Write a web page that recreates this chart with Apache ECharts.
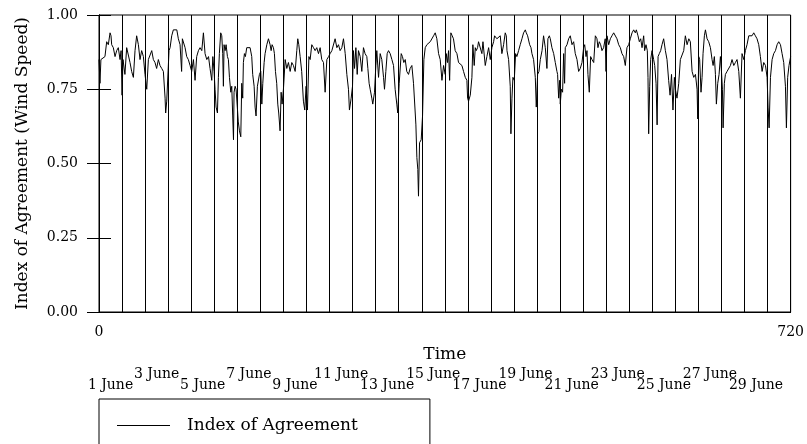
<!DOCTYPE html>
<html>
<head>
<meta charset="utf-8">
<script src="https://cdn.jsdelivr.net/npm/echarts@6/dist/echarts.min.js"></script>
<style>
html, body { margin: 0; padding: 0; background: #fff; }
#main { width: 807px; height: 444px; }
</style>
</head>
<body>
<div id="main"></div>
<script>
// hour of June (0..720) and index of agreement
var hours = [
    0, 1, 2, 4, 6.2, 8, 9.7, 11.5, 12.5, 13.2, 14.9, 16.7, 18.4, 20.1, 21.9, 23,
    24, 25, 27, 28.8, 30.6, 32.3, 34, 35.8, 37.5, 39.2, 41, 42.7, 44.4, 46.2, 47.9,
    49.7, 51.4, 53.1, 54.9, 56.6, 58.3, 60, 61.8, 63.5, 65.3, 67, 68.8, 69.4, 70.5,
    72.2, 72.9, 74, 75.7, 77.4, 79.2, 81, 82.6, 84.4, 86, 86.8, 87.8, 89.6, 91.3, 93, 94.8,
    96.5, 98.3, 100, 101.7, 103.5, 105.2, 107, 108.7, 110.4, 112.2, 114, 115.6, 117.4, 118.5, 119.8,
    120.8, 121.9, 123.3, 124.3, 125.3, 126.7, 127.8, 128.8, 129.5, 130.2, 131.3, 132.3, 133.7, 134.7, 135.8, 137.2, 138.2, 139.2, 140, 140.6, 141.7, 142.7,
    144, 145, 146.2, 147.6, 148.6, 149.6, 150.3, 151.4, 152.4, 153.8, 155.6, 157.3, 159, 160, 161.5, 162.5, 163.5, 164.9, 167,
    168.4, 169.5, 170.5, 171.9, 172.9, 174.7, 176.4, 178.1, 179.2, 180.2, 181.6, 182.6, 183.7, 185, 186.1, 187.1, 188.5, 189.6, 190.6,
    192, 193.8, 195.5, 197.2, 199, 200.7, 202.4, 204.2, 205.9, 206.9, 208, 209.4, 211, 212.8, 214.2,
    215.6, 217, 218.5, 219.8, 221.5, 223.3, 225, 226.7, 228.5, 230.2, 231.9, 233.7, 235.4, 237.2, 239,
    240.6, 242.4, 244, 245.8, 247.6, 249.3, 251, 252.8, 254.5, 256.3, 258, 259.7, 260.7, 262.5,
    263.9, 264.9, 266, 267.4, 268.8, 270.1, 271.9, 273.6, 275.3, 277, 278.8, 279.9, 281.2, 282.3, 284, 285, 286.8,
    288.2, 289.2, 291, 292.7, 294.4, 296.2, 297.2, 298.6, 300, 301.4, 303.1, 304.9, 306.6, 308.3, 310, 311,
    312.5, 314.6, 315.9, 317.3, 318.8, 320.4, 322.2, 323.9, 325.7, 327.4, 329.2, 329.9, 330.9, 331.9, 332.6, 333.7, 335.4,
    336.8, 338.2, 339.6, 341.3, 343, 344.8, 346.5, 348.3, 350, 351.7, 353.5, 355.2, 357, 358.7,
    360.4, 361.5, 362.8, 363.9, 365, 366.3, 367.7, 369, 370.8, 372.6, 374.3, 376, 377.8, 379.5, 381.3, 383,
    383.7, 384.7, 386.5, 388.2, 389.2, 390.6, 391.7, 392.7, 394.1, 395.1, 396.9, 398.6, 399.7, 401, 402.1, 403.8, 405.6, 407.3,
    409, 410.8, 411.8, 414.2, 415.9, 417.7, 419.4, 421.2, 422.9, 424, 424.7, 426.4, 428.1, 428.8, 429.9, 430.9,
    432.3, 433.7, 435, 436.8, 438.5, 440.3, 442, 443.8, 444.8, 446.2, 448.3, 449.7, 450.7, 452.4, 454.2, 455.2,
    456.6, 458, 459.4, 461.2, 462.8, 464.6, 466.3, 467.3, 468.8, 469.8, 471.5, 473.3, 475, 476.7, 477.4, 478.5, 479.5,
    480.2, 481.3, 482.6, 483.7, 484.7, 485.4, 487.2, 488.9, 490.6, 492.4, 494.1, 495.8, 497.6, 499.3, 501, 502.8,
    504.5, 505.6, 507, 508, 509, 510.4, 511.8, 513.2, 515, 516.7, 518.4, 519.4, 520.8, 522.2, 523.6, 525.3, 527, 527.8,
    528.8, 530.6, 532.3, 534, 535.8, 537.5, 539.2, 541, 542.7, 544.4, 546.2, 547.9, 549.6, 551.4,
    553.1, 554.9, 556.6, 558.3, 559.4, 561.1, 562.5, 563.9, 565.3, 567, 568, 569.4, 570.8, 571.5, 572.2, 573.3, 574.3, 575.7,
    577.4, 578.5, 579.9, 581, 582, 583.3, 584.7, 586.1, 587.8, 589.6, 591.3, 593, 594.5, 596, 597.5, 599,
    600, 601.7, 603.5, 605.2, 607, 608.7, 610.4, 612.2, 614, 615.6, 617.4, 619.1, 620.9, 622.6, 623.3,
    624.3, 625.3, 626.7, 627.8, 628.8, 630.2, 631.3, 633, 634.7, 636.5, 638.2, 639.3, 640.6, 641.7, 642.7, 644.1, 645.5, 646.9,
    648, 649, 649.7, 651, 652.1, 653.8, 655.6, 657.3, 659, 660.8, 662.5, 664.2, 666, 667.7, 669.4, 671.2,
    672.9, 674.6, 676.4, 678.1, 679.8, 681.6, 683.3, 685, 686.8, 688.5, 690.3, 692, 693.8, 695.5,
    696.5, 697.6, 699, 700.7, 702.4, 704.2, 705.9, 707.6, 709.4, 711.1, 712.8, 714.6, 715.6, 716.9, 718.3, 720
];
var agreement = [
    0.85, 0.77, 0.85, 0.85, 0.86, 0.91, 0.90, 0.94, 0.93, 0.90, 0.89, 0.86, 0.88, 0.89, 0.85, 0.88,
    0.73, 0.85, 0.80, 0.89, 0.89, 0.84, 0.81, 0.79, 0.88, 0.93, 0.90, 0.85, 0.88, 0.86, 0.80,
    0.75, 0.85, 0.85, 0.88, 0.85, 0.84, 0.82, 0.85, 0.83, 0.82, 0.81, 0.72, 0.67, 0.71,
    0.71, 0.88, 0.89, 0.93, 0.95, 0.95, 0.95, 0.92, 0.90, 0.81, 0.92, 0.92, 0.89, 0.86, 0.85, 0.83,
    0.81, 0.85, 0.78, 0.86, 0.88, 0.89, 0.88, 0.94, 0.87, 0.85, 0.86, 0.82, 0.78, 0.86, 0.81,
    0.75, 0.69, 0.67, 0.79, 0.87, 0.94, 0.93, 0.87, 0.76, 0.90, 0.88, 0.90, 0.86, 0.85, 0.79, 0.74, 0.76, 0.66, 0.58, 0.74, 0.76, 0.75,
    0.69, 0.64, 0.61, 0.59, 0.77, 0.72, 0.84, 0.87, 0.86, 0.89, 0.89, 0.89, 0.86, 0.80, 0.76, 0.69, 0.66, 0.76, 0.80,
    0.81, 0.70, 0.77, 0.84, 0.87, 0.90, 0.92, 0.90, 0.88, 0.90, 0.89, 0.87, 0.81, 0.77, 0.70, 0.67, 0.61, 0.74, 0.70,
    0.75, 0.85, 0.82, 0.84, 0.81, 0.84, 0.83, 0.81, 0.88, 0.92, 0.90, 0.86, 0.81, 0.71, 0.68,
    0.76, 0.68, 0.86, 0.85, 0.90, 0.89, 0.88, 0.89, 0.87, 0.89, 0.85, 0.84, 0.74, 0.85, 0.86,
    0.87, 0.88, 0.88, 0.92, 0.89, 0.90, 0.88, 0.89, 0.92, 0.87, 0.80, 0.75, 0.68, 0.72,
    0.76, 0.88, 0.82, 0.89, 0.80, 0.88, 0.86, 0.81, 0.89, 0.87, 0.86, 0.82, 0.77, 0.75, 0.72, 0.70, 0.74,
    0.83, 0.88, 0.79, 0.87, 0.85, 0.79, 0.75, 0.81, 0.87, 0.88, 0.87, 0.85, 0.83, 0.75, 0.70, 0.67,
    0.77, 0.87, 0.86, 0.84, 0.85, 0.81, 0.80, 0.82, 0.83, 0.77, 0.67, 0.63, 0.52, 0.48, 0.39, 0.57, 0.58,
    0.66, 0.85, 0.89, 0.90, 0.90, 0.91, 0.91, 0.93, 0.94, 0.92, 0.87, 0.85, 0.78, 0.83,
    0.80, 0.87, 0.84, 0.88, 0.78, 0.94, 0.93, 0.92, 0.88, 0.87, 0.84, 0.84, 0.83, 0.81, 0.79, 0.78,
    0.72, 0.71, 0.73, 0.79, 0.90, 0.83, 0.89, 0.88, 0.89, 0.91, 0.91, 0.87, 0.91, 0.91, 0.83, 0.86, 0.89, 0.85,
    0.89, 0.91, 0.93, 0.92, 0.92, 0.93, 0.87, 0.90, 0.94, 0.93, 0.88, 0.85, 0.76, 0.60, 0.72, 0.79,
    0.78, 0.87, 0.86, 0.88, 0.90, 0.92, 0.94, 0.95, 0.94, 0.93, 0.90, 0.89, 0.87, 0.85, 0.79, 0.69,
    0.80, 0.81, 0.85, 0.88, 0.93, 0.89, 0.82, 0.92, 0.93, 0.92, 0.89, 0.87, 0.84, 0.81, 0.80, 0.72, 0.78,
    0.70, 0.75, 0.74, 0.87, 0.77, 0.89, 0.90, 0.92, 0.93, 0.90, 0.91, 0.87, 0.85, 0.81, 0.82, 0.84,
    0.89, 0.90, 0.86, 0.88, 0.80, 0.74, 0.86, 0.85, 0.84, 0.93, 0.92, 0.89, 0.91, 0.90, 0.88, 0.89, 0.92, 0.81,
    0.93, 0.90, 0.92, 0.93, 0.94, 0.94, 0.92, 0.90, 0.89, 0.87, 0.86, 0.83, 0.89, 0.90,
    0.92, 0.94, 0.95, 0.94, 0.95, 0.93, 0.91, 0.92, 0.89, 0.93, 0.88, 0.90, 0.88, 0.79, 0.60, 0.76, 0.85, 0.88,
    0.85, 0.83, 0.77, 0.63, 0.86, 0.87, 0.88, 0.90, 0.92, 0.88, 0.85, 0.78, 0.73, 0.80, 0.68, 0.79,
    0.75, 0.72, 0.77, 0.85, 0.85, 0.88, 0.93, 0.90, 0.92, 0.91, 0.81, 0.79, 0.80, 0.75, 0.65,
    0.86, 0.85, 0.74, 0.79, 0.87, 0.93, 0.95, 0.92, 0.91, 0.89, 0.85, 0.83, 0.86, 0.80, 0.70, 0.77, 0.80, 0.86,
    0.81, 0.75, 0.62, 0.77, 0.80, 0.81, 0.81, 0.83, 0.85, 0.83, 0.84, 0.85, 0.81, 0.72, 0.87, 0.85,
    0.88, 0.90, 0.93, 0.93, 0.93, 0.94, 0.93, 0.92, 0.90, 0.86, 0.81, 0.84, 0.83, 0.79,
    0.69, 0.62, 0.79, 0.85, 0.87, 0.88, 0.90, 0.91, 0.90, 0.87, 0.84, 0.76, 0.62, 0.79, 0.83, 0.86
];
var upperDays = [3, 7, 11, 15, 19, 23, 27];
var lowerDays = [1, 5, 9, 13, 17, 21, 25, 29];
var xEnds = [0, 720];
var yTicks = [0, 0.25, 0.5, 0.75, 1];

var serif = 'DejaVu Serif';
var chart = echarts.init(document.getElementById('main'));

var points = hours.map(function (h, i) { return [h, agreement[i]]; });

function midday(d) { return (d - 1) * 24 + 12; }

// extra label-only axis for one row of day names
function dayAxis(days, margin) {
    return {
        type: 'value', min: 0, max: 720, position: 'bottom',
        axisLine: { show: false }, axisTick: { show: false }, splitLine: { show: false },
        axisLabel: {
            customValues: days.map(midday),
            margin: margin,
            fontFamily: serif, fontSize: 14, color: '#000',
            formatter: function (v) { return ((v - 12) / 24 + 1) + ' June'; }
        }
    };
}

function yAxis(pos, labels) {
    return {
        type: 'value', position: pos, min: yTicks[0], max: yTicks[yTicks.length - 1], interval: 0.25,
        axisLine: { show: true, lineStyle: { color: '#000', width: 1 } },
        axisTick: { show: true, inside: true, length: 12, lineStyle: { color: '#000' } },
        splitLine: { show: false },
        axisLabel: {
            show: labels, margin: 21, fontFamily: serif, fontSize: 14, color: '#000',
            formatter: function (v) { return v.toFixed(2); }
        }
    };
}

var option = {
    animation: false,
    backgroundColor: '#fff',
    grid: {
        left: 99, right: 16, top: 15, bottom: 132,
        show: true, borderColor: '#000', borderWidth: 1
    },
    legend: {
        data: ['Index of Agreement'],
        left: 99, top: 399,
        padding: [18, 72, 30, 18],
        icon: 'rect',
        itemWidth: 53, itemHeight: 1,
        itemStyle: { color: '#000' },
        borderColor: '#000', borderWidth: 1,
        textStyle: { fontFamily: serif, fontSize: 17, color: '#000', padding: [0, 0, 0, 12] }
    },
    xAxis: [
        {
            type: 'value', min: 0, max: 720, interval: 24,
            axisLine: { show: true, lineStyle: { color: '#000' } },
            axisTick: { show: false },
            splitLine: { show: true, lineStyle: { color: '#000', width: 1 } },
            axisLabel: {
                margin: 13, fontFamily: serif, fontSize: 14, color: '#000',
                formatter: function (v) { return xEnds.indexOf(v) >= 0 ? String(v) : ''; }
            },
            name: 'Time', nameLocation: 'middle', nameGap: 34,
            nameTextStyle: { fontFamily: serif, fontSize: 17, color: '#000' }
        },
        dayAxis(upperDays, 55),
        dayAxis(lowerDays, 66)
    ],
    yAxis: [
        Object.assign(yAxis('left', true), {
            name: 'Index of Agreement (Wind Speed)', nameLocation: 'middle', nameGap: 68,
            nameTextStyle: { fontFamily: serif, fontSize: 17, color: '#000' }
        }),
        yAxis('right', false)
    ],
    series: [
        {
            name: 'Index of Agreement',
            type: 'line',
            data: points,
            symbol: 'none',
            lineStyle: { color: '#000', width: 1 },
            itemStyle: { color: '#000' }
        }
    ]
};
chart.setOption(option);
</script>
</body>
</html>
